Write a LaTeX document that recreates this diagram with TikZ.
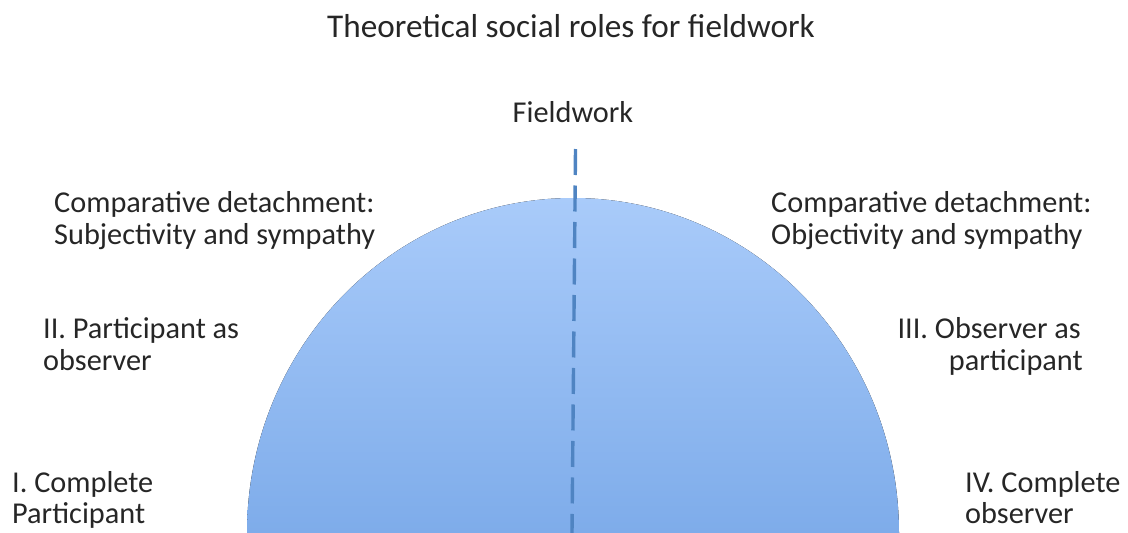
\documentclass[tikz,border=0pt]{standalone}
\usepackage{fontspec}
\setmainfont{Carlito}
\definecolor{txt}{HTML}{262626}
\definecolor{domeTop}{HTML}{A9CBFA}
\definecolor{domeBot}{HTML}{7EACEA}
\definecolor{axis}{HTML}{4F84C2}
\begin{document}
\begin{tikzpicture}[x=1pt,y=-1pt,
  lbl/.style={font=\fontsize{30.3}{33}\selectfont, text=txt, inner sep=0pt},
  ttl/.style={font=\fontsize{33.2}{36}\selectfont, text=txt, inner sep=0pt},
  axisline/.style={draw=axis, line width=3.4pt, dash pattern=on 26pt off 10.5pt}]
  \useasboundingbox (0,0) rectangle (1128,533);

  % shaded half dome
  \fill[top color=domeTop, bottom color=domeBot]
    (247,533) arc[start angle=180, end angle=360, x radius=326, y radius=335] -- cycle;

  % vertical fieldwork axis
  \coordinate (axtop) at (575.5,149);
  \coordinate (axbot) at (572,533);
  \draw[axisline] (axtop) -- (axbot);

  % title and axis label
  \node[ttl, anchor=base] (title) at (571,37) {Theoretical social roles for fieldwork};
  \node[lbl, anchor=base] (field) at (573,122) {Fieldwork};

  % left side
  \node[lbl, anchor=base west] (lcA) at (54,212) {Comparative detachment:};
  \node[lbl, anchor=base west] (lcB) at (54,244) {Subjectivity and sympathy};
  \node[lbl, anchor=base west] (lpA) at (43,338) {II. Participant as};
  \node[lbl, anchor=base west] (lpB) at (43,370) {observer};
  \node[lbl, anchor=base west] (lfA) at (12,492) {I. Complete};
  \node[lbl, anchor=base west] (lfB) at (12,523) {Participant};

  % right side
  \node[lbl, anchor=base west] (rcA) at (771,212) {Comparative detachment:};
  \node[lbl, anchor=base west] (rcB) at (771,244) {Objectivity and sympathy};
  \node[lbl, anchor=base east] (roA) at (1081,338) {III. Observer as};
  \node[lbl, anchor=base east] (roB) at (1083,370) {participant};
  \node[lbl, anchor=base west] (rfA) at (965,492) {IV. Complete};
  \node[lbl, anchor=base west] (rfB) at (965,523) {observer};
\end{tikzpicture}
\end{document}
